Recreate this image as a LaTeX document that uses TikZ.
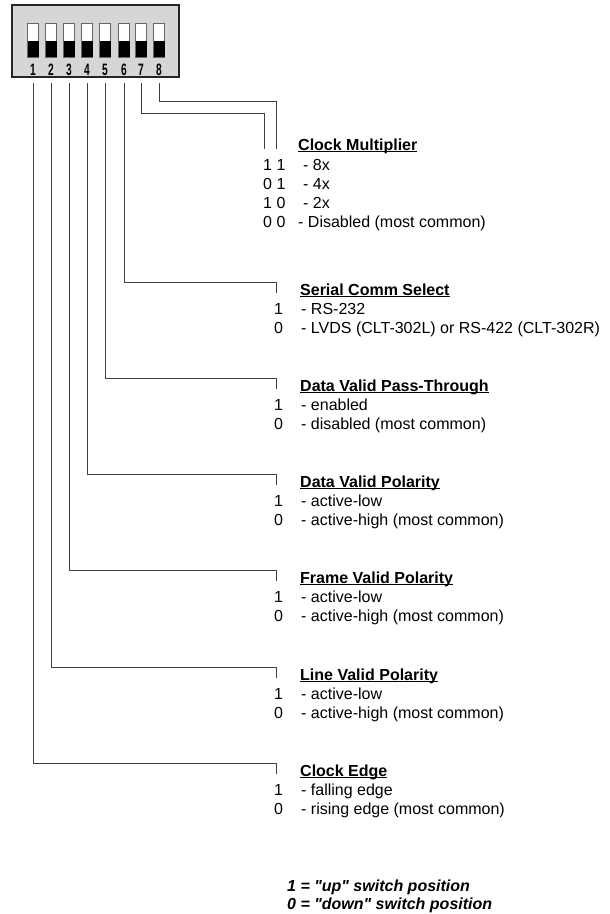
\documentclass[tikz,border=0pt]{standalone}
\usepackage{graphicx}
\usepackage{fontspec}
\setmainfont{Liberation Sans}
% underline sitting just below the baseline
\newcommand\ulbox[1]{\setbox0\hbox{#1}\rlap{\rule[-2.4pt]{\wd0}{1.2pt}}\box0}
\begin{document}
\begin{tikzpicture}[x=1pt,y=-1pt,
  wire/.style={draw=black!75,line width=0.9pt},
  dipbox/.style={draw=black!85,fill=black!16,line width=1.6pt,
    minimum width=167pt,minimum height=72pt,inner sep=0pt},
  switch/.style={draw=black!60,fill=white,line width=0.9pt,
    minimum width=11pt,minimum height=34pt,inner sep=0pt},
  pinnum/.style={anchor=base,inner sep=0pt,font=\fontsize{16.5}{16}\selectfont\bfseries},
  title/.style={anchor=base west,inner sep=0pt,font=\fontsize{16}{19}\selectfont\bfseries},
  item/.style={anchor=base west,inner sep=0pt,font=\fontsize{16}{19}\selectfont},
  bit/.style={anchor=base,inner sep=0pt,font=\fontsize{16}{19}\selectfont},
  note/.style={anchor=base west,inner sep=0pt,font=\fontsize{16}{19}\selectfont\bfseries\itshape}]
\useasboundingbox (0,0) rectangle (610,914);

% the DIP switch bank
\node[dipbox] (dip) at (95.5,41) {};
\foreach \x [count=\i] in {33,51,69,87,105,124,141,159}{
  \node[switch] (sw\i) at (\x,40) {};
  \fill[black] (\x-5.5,41) rectangle (\x+5.5,57);
  \node[pinnum] (num\i) at (\x,75) {\scalebox{0.62}[1]{\i}};
  \coordinate (pin\i) at (\x,83);
}

% switches 7 and 8 share one two-bit field
\coordinate (knee8) at (276,101);
\coordinate (tip8) at (276,149);
\coordinate (knee7) at (264,113);
\coordinate (tip7) at (264,149);
\draw[wire] (pin8) |- (knee8) -- (tip8);
\draw[wire] (pin7) |- (knee7) -- (tip7);
\node[title] (head7) at (298,150) {\ulbox{Clock Multiplier}};
\node[item] (b11) at (263,170) {1 1};
\node[item] (m8) at (303,170) {- 8x};
\node[item] (b01) at (263,189.5) {0 1};
\node[item] (m4) at (303,189.5) {- 4x};
\node[item] (b10) at (263,208.5) {1 0};
\node[item] (m2) at (303,208.5) {- 2x};
\node[item] (b00) at (263,227.5) {0 0};
\node[item] (m0) at (298,227.5) {- Disabled (most common)};

% one-bit fields, switch 6 down to switch 1
\foreach \y/\p/\t/\a/\b in {
  282/6/{Serial Comm Select}/{RS-232}/{LVDS (CLT-302L) or RS-422 (CLT-302R)},
  378/5/{Data Valid Pass-Through}/{enabled}/{disabled (most common)},
  474/4/{Data Valid Polarity}/{active-low}/{active-high (most common)},
  570/3/{Frame Valid Polarity}/{active-low}/{active-high (most common)},
  667/2/{Line Valid Polarity}/{active-low}/{active-high (most common)},
  763/1/{Clock Edge}/{falling edge}/{rising edge (most common)}}{
  \coordinate (knee\p) at (276,\y);
  \coordinate (tip\p) at (276,\y+11);
  \draw[wire] (pin\p) |- (knee\p) -- (tip\p);
  \node[title] (head\p) at (300,\y+13) {\ulbox{\t}};
  \node[bit] (one\p) at (278.5,\y+32.5) {1};
  \node[item] (set\p) at (301,\y+32.5) {- \a};
  \node[bit] (zero\p) at (278.5,\y+51.5) {0};
  \node[item] (clr\p) at (301,\y+51.5) {- \b};
}

\node[note] (up) at (287,891) {1 = \textquotedbl up\textquotedbl{} switch position};
\node[note] (down) at (287,909.5) {0 = \textquotedbl down\textquotedbl{} switch position};
\end{tikzpicture}
\end{document}
